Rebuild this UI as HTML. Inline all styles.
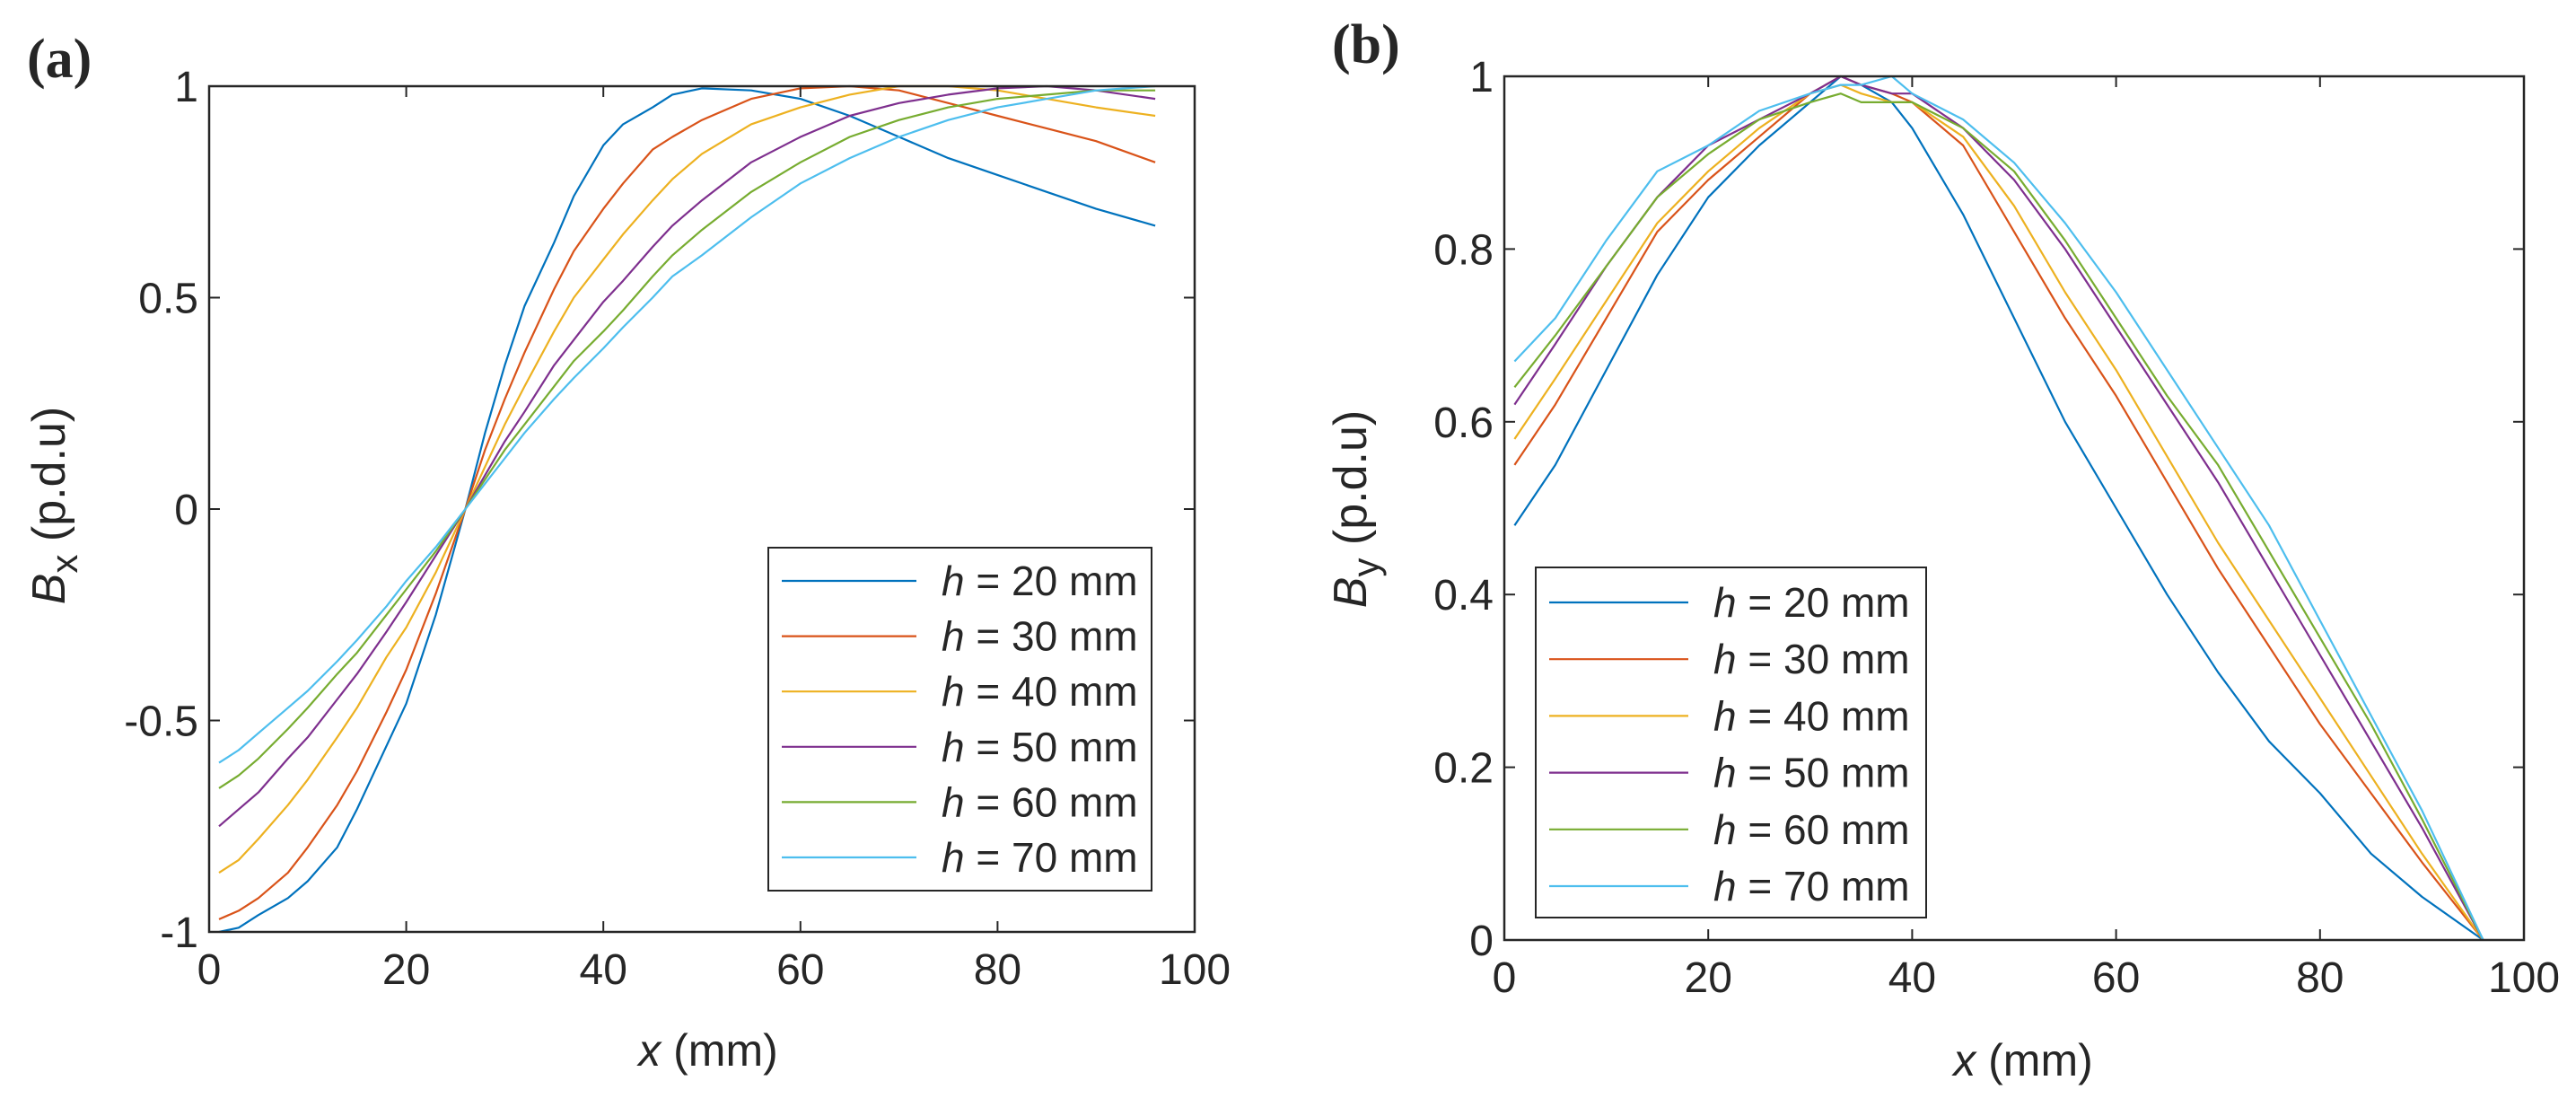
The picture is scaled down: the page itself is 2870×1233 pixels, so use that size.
<!DOCTYPE html>
<html><head><meta charset="utf-8"><style>
body{margin:0;background:#fff;}
svg text{font-family:"Liberation Sans",sans-serif;fill:#262626;}
</style></head><body>
<svg id="s" width="2870" height="1228" xmlns="http://www.w3.org/2000/svg"></svg>
<script>
const colors=['#0072BD','#D95319','#EDB120','#7E2F8E','#77AC30','#4DBEEE'];
const seriesNames=['20','30','40','50','60','70'];
const xA=[1,3,5,8,10,13,15,18,20,23,26,28,30,32,35,37,40,42,45,47,50,55,60,65,70,75,80,85,90,96];
const a20=[-1,-0.99,-0.96,-0.92,-0.88,-0.8,-0.71,-0.56,-0.46,-0.25,0,0.18,0.34,0.48,0.63,0.74,0.86,0.91,0.95,0.98,0.995,0.99,0.97,0.93,0.88,0.83,0.79,0.75,0.71,0.67];
const a30=[-0.97,-0.95,-0.92,-0.86,-0.80,-0.7,-0.62,-0.48,-0.38,-0.2,0,0.14,0.26,0.37,0.52,0.61,0.71,0.77,0.85,0.88,0.92,0.97,0.995,1.0,0.99,0.96,0.93,0.9,0.87,0.82];
const a40=[-0.86,-0.83,-0.78,-0.7,-0.64,-0.54,-0.47,-0.35,-0.28,-0.15,0,0.1,0.2,0.29,0.42,0.5,0.59,0.65,0.73,0.78,0.84,0.91,0.95,0.98,1.0,1.0,0.99,0.97,0.95,0.93];
const a50=[-0.75,-0.71,-0.67,-0.59,-0.54,-0.45,-0.39,-0.29,-0.22,-0.11,0,0.08,0.16,0.23,0.34,0.4,0.49,0.54,0.62,0.67,0.73,0.82,0.88,0.93,0.96,0.98,0.995,1.0,0.99,0.97];
const a60=[-0.66,-0.63,-0.59,-0.52,-0.47,-0.39,-0.34,-0.25,-0.19,-0.1,0,0.07,0.14,0.2,0.29,0.35,0.42,0.47,0.55,0.6,0.66,0.75,0.82,0.88,0.92,0.95,0.97,0.98,0.99,0.99];
const a70=[-0.6,-0.57,-0.53,-0.47,-0.43,-0.36,-0.31,-0.23,-0.17,-0.09,0,0.06,0.12,0.18,0.26,0.31,0.38,0.43,0.5,0.55,0.6,0.69,0.77,0.83,0.88,0.92,0.95,0.97,0.99,1.0];
const xB=[1,5,10,15,20,25,30,33,35,38,40,45,50,55,60,65,70,75,80,85,90,96];
const b20=[0.48,0.55,0.66,0.77,0.86,0.92,0.97,1.0,0.99,0.97,0.94,0.84,0.72,0.6,0.5,0.4,0.31,0.23,0.17,0.1,0.05,0];
const b30=[0.55,0.62,0.72,0.82,0.88,0.93,0.98,1.0,0.99,0.98,0.97,0.92,0.82,0.72,0.63,0.53,0.43,0.34,0.25,0.17,0.09,0];
const b40=[0.58,0.65,0.74,0.83,0.89,0.94,0.98,0.99,0.98,0.97,0.97,0.93,0.85,0.75,0.66,0.56,0.46,0.37,0.28,0.19,0.1,0];
const b50=[0.62,0.69,0.78,0.86,0.92,0.95,0.98,1.0,0.99,0.98,0.98,0.94,0.88,0.8,0.71,0.62,0.53,0.43,0.33,0.23,0.13,0];
const b60=[0.64,0.7,0.78,0.86,0.91,0.95,0.97,0.98,0.97,0.97,0.97,0.94,0.89,0.81,0.72,0.63,0.55,0.45,0.35,0.25,0.14,0];
const b70=[0.67,0.72,0.81,0.89,0.92,0.96,0.98,0.99,0.99,1.0,0.98,0.95,0.9,0.83,0.75,0.66,0.57,0.48,0.37,0.26,0.15,0];
const xTicks=[0,20,40,60,80,100];
const yTicksA=[-1,-0.5,0,0.5,1];
const yTicksB=[0,0.2,0.4,0.6,0.8,1];
const yLabelsB=['0','0.2','0.4','0.6','0.8','1'];
const NS='http://www.w3.org/2000/svg';
const svg=document.getElementById('s');
function el(tag,attrs,parent,text){const e=document.createElementNS(NS,tag);for(const k in attrs)e.setAttribute(k,attrs[k]);if(text!==undefined)e.textContent=text;(parent||svg).appendChild(e);return e;}
function panel(cfg){
  const g=el('g',{});
  
  
  const X=v=>cfg.x0+(v-0)/100*(cfg.x1-cfg.x0);
  const Y=v=>cfg.yb+(v-cfg.ymin)/(cfg.ymax-cfg.ymin)*(cfg.yt-cfg.yb);
  cfg.series.forEach((ys,i)=>{
    const d=cfg.xs.map((x,j)=>(j?'L':'M')+X(x).toFixed(1)+' '+Y(ys[j]).toFixed(1)).join(' ');
    const p=el('path',{d:d,fill:'none',stroke:colors[i],'stroke-width':2.2,'stroke-linejoin':'round'},g);
    
    
  });
  const box=el('rect',{x:cfg.x0,y:cfg.yt,width:cfg.x1-cfg.x0,height:cfg.yb-cfg.yt,fill:'none',stroke:'#262626','stroke-width':2.5},g);
  
  
  xTicks.forEach(t=>{
    const x=X(t);
    el('line',{x1:x,x2:x,y1:cfg.yb,y2:cfg.yb-12,stroke:'#262626','stroke-width':2},g);
    el('line',{x1:x,x2:x,y1:cfg.yt,y2:cfg.yt+12,stroke:'#262626','stroke-width':2},g);
    const tx=el('text',{x:x,y:cfg.yb+58,'font-size':48,'text-anchor':'middle'},g,String(t));
    
    
  });
  cfg.yTicks.forEach((t,i)=>{
    const y=Y(t);
    el('line',{x1:cfg.x0,x2:cfg.x0+12,y1:y,y2:y,stroke:'#262626','stroke-width':2},g);
    el('line',{x1:cfg.x1,x2:cfg.x1-12,y1:y,y2:y,stroke:'#262626','stroke-width':2},g);
    const ty=el('text',{x:cfg.x0-12,y:y+17,'font-size':48,'text-anchor':'end'},g,cfg.yLabels[i]);
    
    
  });
  const xl=el('text',{x:cfg.xlx,y:cfg.xly,'font-size':50,'text-anchor':'middle'},g);
  
  
  el('tspan',{'font-style':'italic'},xl,'x');
  el('tspan',{},xl,' (mm)');
  const yl=el('text',{x:0,y:0,'font-size':52,'text-anchor':'middle',transform:`translate(${cfg.ylx},${cfg.yly}) rotate(-90)`},g);
  
  
  el('tspan',{'font-style':'italic'},yl,'B');
  el('tspan',{'font-size':42,dy:14},yl,cfg.sub);
  el('tspan',{dy:-14},yl,' (p.d.u)');
  const lg=el('g',{},g);
  
  
  el('rect',{x:cfg.lx,y:cfg.ly,width:cfg.lw,height:cfg.lh,fill:'#fff',stroke:'#262626','stroke-width':2},lg);
  seriesNames.forEach((n,i)=>{
    const y=cfg.ly+cfg.lfirst+i*cfg.lstep;
    const e=el('g',{},lg);
    
    
    el('line',{x1:cfg.lx+15,x2:cfg.lx+15+cfg.llen,y1:y,y2:y,stroke:colors[i],'stroke-width':2.2},e);
    const t=el('text',{x:cfg.lx+cfg.ltx,y:y+16,'font-size':46},e);
    el('tspan',{'font-style':'italic'},t,'h');
    el('tspan',{},t,' = '+n+' mm');
  });
  const lab=el('text',{x:cfg.tagx,y:cfg.tagy,'font-size':62,'font-weight':'bold',style:'font-family:"Liberation Serif",serif'},g,cfg.tag);
  
  
}
panel({name:'panel-a',x0:233,x1:1331,yt:96,yb:1038,ymin:-1,ymax:1,xs:xA,series:[a20,a30,a40,a50,a60,a70],
  yTicks:yTicksA,yLabels:['-1','-0.5','0','0.5','1'],xlx:789,xly:1187,ylx:72,yly:563,sub:'x',
  lx:856,ly:610,lw:427,lh:382,lfirst:37,lstep:61.6,llen:150,ltx:193,tag:'(a)',tagx:30,tagy:86});
panel({name:'panel-b',x0:1676,x1:2812,yt:85,yb:1047,ymin:0,ymax:1,xs:xB,series:[b20,b30,b40,b50,b60,b70],
  yTicks:yTicksB,yLabels:yLabelsB,xlx:2254,xly:1198,ylx:1522,yly:567,sub:'y',
  lx:1711,ly:632,lw:435,lh:390,lfirst:39,lstep:63.2,llen:155,ltx:198,tag:'(b)',tagx:1484,tagy:70});
</script>
</body></html>
